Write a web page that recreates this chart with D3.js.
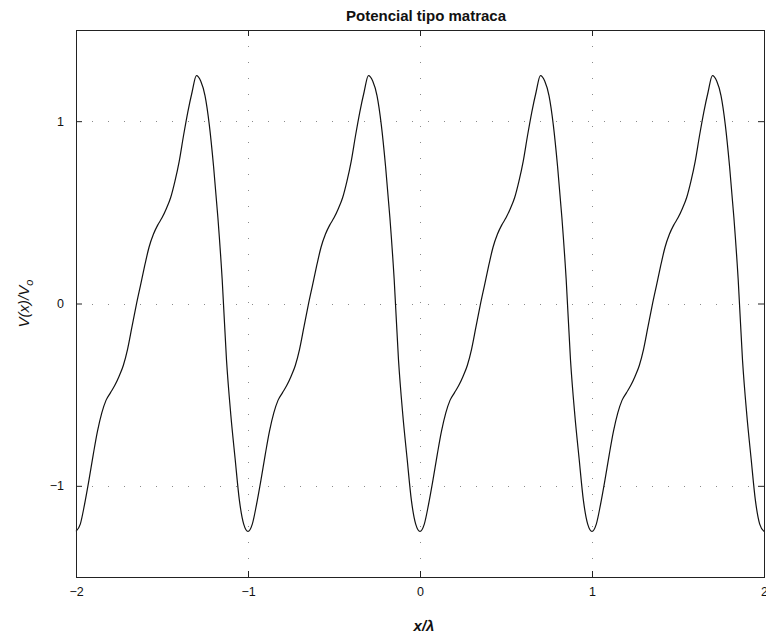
<!DOCTYPE html>
<html>
<head>
<meta charset="utf-8">
<script src="https://cdn.jsdelivr.net/npm/d3@7"></script>
<style>
  html, body { margin: 0; padding: 0; background: #fff; }
  svg { display: block; }
  text { font-family: "Liberation Sans", Arial, Helvetica, sans-serif; fill: #111; }
</style>
</head>
<body>
<svg id="chart" width="766" height="635"></svg>
<script>
// Sampling grid along x/λ
const xStart = -2;
const xStep = 0.025;

// V(x)/V0 at each sample, four periods of the ratchet potential
const vValues = [
  // -2 … -1
  -1.25, -1.21, -1.10, -0.97, -0.83, -0.70, -0.60, -0.53, -0.49, -0.45,
  -0.40, -0.34, -0.25, -0.13, -0.01, 0.10, 0.21, 0.31, 0.38, 0.43,
  0.47, 0.52, 0.58, 0.67, 0.78, 0.92, 1.05, 1.16, 1.25, 1.22,
  1.14, 0.98, 0.75, 0.47, 0.13, -0.31, -0.61, -0.85, -1.08, -1.21,
  // -1 … 0
  -1.25, -1.21, -1.10, -0.97, -0.83, -0.70, -0.60, -0.53, -0.49, -0.45,
  -0.40, -0.34, -0.25, -0.13, -0.01, 0.10, 0.21, 0.31, 0.38, 0.43,
  0.47, 0.52, 0.58, 0.67, 0.78, 0.92, 1.05, 1.16, 1.25, 1.22,
  1.14, 0.98, 0.75, 0.47, 0.13, -0.31, -0.61, -0.85, -1.08, -1.21,
  // 0 … 1
  -1.25, -1.21, -1.10, -0.97, -0.83, -0.70, -0.60, -0.53, -0.49, -0.45,
  -0.40, -0.34, -0.25, -0.13, -0.01, 0.10, 0.21, 0.31, 0.38, 0.43,
  0.47, 0.52, 0.58, 0.67, 0.78, 0.92, 1.05, 1.16, 1.25, 1.22,
  1.14, 0.98, 0.75, 0.47, 0.13, -0.31, -0.61, -0.85, -1.08, -1.21,
  // 1 … 2
  -1.25, -1.21, -1.10, -0.97, -0.83, -0.70, -0.60, -0.53, -0.49, -0.45,
  -0.40, -0.34, -0.25, -0.13, -0.01, 0.10, 0.21, 0.31, 0.38, 0.43,
  0.47, 0.52, 0.58, 0.67, 0.78, 0.92, 1.05, 1.16, 1.25, 1.22,
  1.14, 0.98, 0.75, 0.47, 0.13, -0.31, -0.61, -0.85, -1.08, -1.21,
  -1.25
];

const xTicks = [-2, -1, 0, 1, 2];
const yTicks = [-1, 0, 1];
const xDomain = [-2, 2];
const yDomain = [-1.5, 1.5];

const titleText = "Potencial tipo matraca";

const svg = d3.select("#chart");
const box = { left: 76, right: 764, top: 30, bottom: 577 };

const x = d3.scaleLinear().domain(xDomain).range([box.left, box.right]);
const y = d3.scaleLinear().domain(yDomain).range([box.bottom, box.top]);

const points = vValues.map((v, i) => ({ x: xStart + i * xStep, v }));

// dotted grid
const grid = svg.append("g").attr("class", "grid")
  .attr("stroke", "#8a8a8a").attr("stroke-width", 1)
  .attr("stroke-dasharray", "1,15");
grid.selectAll("line.gx").data(xTicks.filter(t => t > xDomain[0] && t < xDomain[1]))
  .join("line").attr("class", "gx")
  .attr("x1", d => Math.round(x(d)) + 0.5).attr("x2", d => Math.round(x(d)) + 0.5)
  .attr("y1", box.top).attr("y2", box.bottom);
grid.selectAll("line.gy").data(yTicks)
  .join("line").attr("class", "gy")
  .attr("y1", d => Math.round(y(d)) + 0.5).attr("y2", d => Math.round(y(d)) + 0.5)
  .attr("x1", box.left).attr("x2", box.right);

// curve
svg.append("path")
  .datum(points)
  .attr("fill", "none")
  .attr("stroke", "#111")
  .attr("stroke-width", 1.2)
  .attr("stroke-linejoin", "round")
  .attr("d", d3.line().x(d => x(d.x)).y(d => y(d.v)).curve(d3.curveMonotoneX));

// axes: ticks pointing inward on all four sides
const tickLen = 6;
const axisStyle = g => {
  g.select(".domain").remove();
  g.selectAll(".tick line").attr("stroke", "#222");
  g.selectAll(".tick text").attr("font-size", 12.5)
    .attr("font-family", "'Liberation Sans', Arial, sans-serif").attr("fill", "#111");
};

svg.append("g")
  .attr("transform", `translate(0,${box.bottom})`)
  .call(d3.axisBottom(x).tickValues(xTicks).tickFormat(d => d < 0 ? "\u2212" + Math.abs(d) : d)
    .tickSizeInner(-tickLen).tickSizeOuter(0).tickPadding(10))
  .call(axisStyle);
svg.append("g")
  .attr("transform", `translate(0,${box.top})`)
  .call(d3.axisTop(x).tickValues(xTicks).tickFormat("").tickSizeInner(-tickLen).tickSizeOuter(0))
  .call(axisStyle);
svg.append("g")
  .attr("transform", `translate(${box.left},0)`)
  .call(d3.axisLeft(y).tickValues(yTicks).tickFormat(d => d < 0 ? "\u2212" + Math.abs(d) : d)
    .tickSizeInner(-tickLen).tickSizeOuter(0).tickPadding(12))
  .call(axisStyle);
svg.append("g")
  .attr("transform", `translate(${box.right},0)`)
  .call(d3.axisRight(y).tickValues(yTicks).tickFormat("").tickSizeInner(-tickLen).tickSizeOuter(0))
  .call(axisStyle);

// frame
svg.append("rect")
  .attr("x", box.left + 0.5).attr("y", box.top + 0.5)
  .attr("width", box.right - box.left).attr("height", box.bottom - box.top)
  .attr("fill", "none").attr("stroke", "#222").attr("stroke-width", 1);

// title
svg.append("text")
  .attr("x", (box.left + box.right) / 2 + 6).attr("y", 21)
  .attr("text-anchor", "middle")
  .attr("font-size", 15).attr("font-weight", "bold")
  .text(titleText);

// x label
svg.append("text")
  .attr("x", (box.left + box.right) / 2 + 4).attr("y", 631)
  .attr("text-anchor", "middle")
  .attr("font-size", 15).attr("font-style", "italic").attr("font-weight", "bold")
  .text("x/\u03bb");

// y label with subscript
const yl = svg.append("text")
  .attr("transform", `translate(29,${(box.top + box.bottom) / 2}) rotate(-90)`)
  .attr("text-anchor", "middle")
  .attr("font-size", 15).attr("font-style", "italic");
yl.append("tspan").text("V(x)/V");
yl.append("tspan").attr("font-size", 11).attr("dy", 4).text("o");
</script>
</body>
</html>
